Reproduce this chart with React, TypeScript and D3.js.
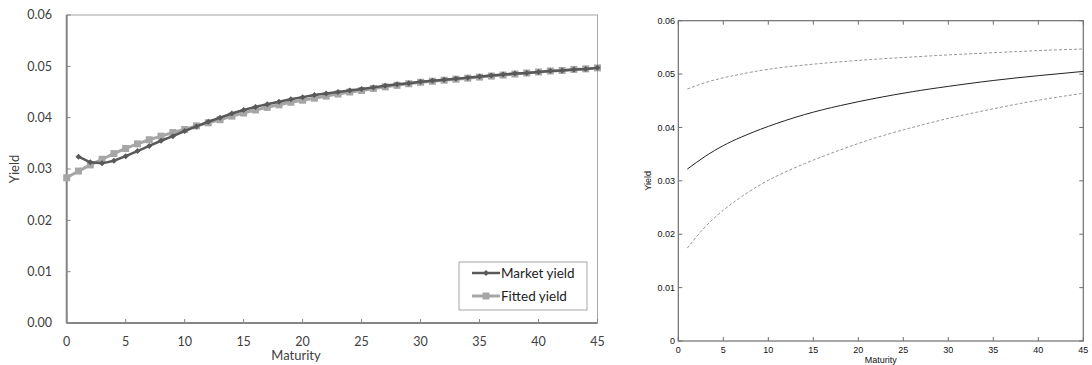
import React from 'react';
import * as d3 from 'd3';

// left panel: market vs fitted yield
const fittedMaturity = d3.range(0, 46);
const fittedYield = [
    0.0283, 0.0296, 0.0308, 0.0319, 0.0330, 0.0340, 0.0349, 0.0357, 0.0364, 0.0371,
    0.0377, 0.0384, 0.0390, 0.0396, 0.0403, 0.0409, 0.0415, 0.0420, 0.0425, 0.0430,
    0.0434, 0.0438, 0.0442, 0.0446, 0.0450, 0.0453, 0.0457, 0.0460, 0.0463, 0.0466,
    0.0469, 0.0471, 0.0473, 0.0475, 0.0477, 0.0479, 0.0481, 0.0483, 0.0485, 0.0487,
    0.0489, 0.0491, 0.0492, 0.0494, 0.0495, 0.0497,
];
const marketMaturity = d3.range(1, 46);
const marketYield = [
    0.0324, 0.0313, 0.0311, 0.0316, 0.0325, 0.0335, 0.0345, 0.0355, 0.0364,
    0.0374, 0.0383, 0.0392, 0.0400, 0.0408, 0.0415, 0.0421, 0.0426, 0.0431, 0.0436,
    0.0440, 0.0444, 0.0447, 0.0450, 0.0453, 0.0456, 0.0459, 0.0462, 0.0465, 0.0467,
    0.0470, 0.0472, 0.0474, 0.0476, 0.0478, 0.0480, 0.0482, 0.0484, 0.0486, 0.0487,
    0.0489, 0.0491, 0.0492, 0.0494, 0.0495, 0.0497,
];
const leftYTicks = [0, 0.01, 0.02, 0.03, 0.04, 0.05, 0.06];
const leftXTicks = [0, 5, 10, 15, 20, 25, 30, 35, 40, 45];

// right panel: estimated curve with bands
const bandMaturity = [1, 3, 5, 7, 10, 14, 18, 22, 26, 30, 35, 40, 45];
const midYield = [0.0322, 0.0346, 0.0366, 0.0382, 0.0402, 0.0424, 0.0441, 0.0455, 0.0467, 0.0477, 0.0488, 0.0497, 0.0505];
const upperYield = [0.0472, 0.0484, 0.0493, 0.0500, 0.0509, 0.0517, 0.0523, 0.0528, 0.0532, 0.0536, 0.0540, 0.0544, 0.0547];
const lowerYield = [0.0174, 0.0214, 0.0245, 0.0270, 0.0301, 0.0332, 0.0358, 0.0381, 0.0400, 0.0417, 0.0435, 0.0451, 0.0464];
const rightYTicks = [0, 0.01, 0.02, 0.03, 0.04, 0.05, 0.06];
const rightXTicks = [0, 5, 10, 15, 20, 25, 30, 35, 40, 45];

const LeftChart: React.FC = () => {
    const x = d3.scaleLinear().domain([0, 45]).range([66.7, 597.5]);
    const y = d3.scaleLinear().domain([0, 0.06]).range([323, 15]);
    const line = d3.line<[number, number]>().x(d => x(d[0])).y(d => y(d[1]));
    const fitted: [number, number][] = fittedMaturity.map((m, i) => [m, fittedYield[i]]);
    const market: [number, number][] = marketMaturity.map((m, i) => [m, marketYield[i]]);
    const font = 'Lato, "Open Sans", sans-serif';
    const txt = '#404040';

    const diamond = (cx: number, cy: number, r: number) =>
        `M${cx},${cy - r}L${cx + r},${cy}L${cx},${cy + r}L${cx - r},${cy}Z`;

    return (
        <g fontFamily={font}>
            <rect x={x(0)} y={y(0.06)} width={x(45) - x(0)} height={y(0) - y(0.06)} fill="none" stroke="#a6a6a6" strokeWidth={1} />
            <line x1={x(0)} x2={x(0)} y1={y(0.06)} y2={y(0)} stroke="#868686" strokeWidth={2} />
            <line x1={x(0)} x2={x(45)} y1={y(0)} y2={y(0)} stroke="#868686" strokeWidth={2} />
            {leftYTicks.map(t => (
                <g key={t}>
                    <line x1={x(0)} x2={x(0) + 4} y1={y(t)} y2={y(t)} stroke="#868686" />
                    <text x={52} y={y(t)} dy="0.35em" textAnchor="end" fontSize={12.5} fill={txt}>{d3.format('.2f')(t)}</text>
                </g>
            ))}
            {leftXTicks.map(t => (
                <g key={t}>
                    <line x1={x(t)} x2={x(t)} y1={y(0)} y2={y(0) - 4} stroke="#868686" />
                    <text x={x(t)} y={346} textAnchor="middle" fontSize={12.5} fill={txt}>{t}</text>
                </g>
            ))}
            <text x={296} y={360} textAnchor="middle" fontSize={13} fill={txt}>Maturity</text>
            <text transform={`translate(19,${169}) rotate(-90)`} textAnchor="middle" fontSize={13} fill={txt}>Yield</text>

            <path d={line(fitted) || ''} fill="none" stroke="#a6a6a6" strokeWidth={3} />
            {fitted.map(d => (
                <rect key={d[0]} x={x(d[0]) - 3.5} y={y(d[1]) - 3.5} width={7} height={7} fill="#a6a6a6" />
            ))}
            <path d={line(market) || ''} fill="none" stroke="#595959" strokeWidth={2.5} />
            {market.map(d => (
                <path key={d[0]} d={diamond(x(d[0]), y(d[1]), 3)} fill="#595959" />
            ))}

            <rect x={459} y={262} width={128} height={48} fill="#fff" stroke="#a6a6a6" strokeWidth={1} />
            <line x1={472} x2={500} y1={273} y2={273} stroke="#595959" strokeWidth={2.5} />
            <path d={diamond(486, 273, 3)} fill="#595959" />
            <text x={501} y={278} fontSize={13.5} fill="#222">Market yield</text>
            <line x1={472} x2={500} y1={296} y2={296} stroke="#a6a6a6" strokeWidth={3} />
            <rect x={482.5} y={292.5} width={7} height={7} fill="#a6a6a6" />
            <text x={501} y={301} fontSize={13.5} fill="#222">Fitted yield</text>
        </g>
    );
};

const RightChart: React.FC = () => {
    const x = d3.scaleLinear().domain([0, 45]).range([678.3, 1083.3]);
    const y = d3.scaleLinear().domain([0, 0.06]).range([341, 20.7]);
    const line = d3.line<number>()
        .x((_, i) => x(bandMaturity[i]))
        .y(d => y(d))
        .curve(d3.curveNatural);
    const font = '"Liberation Sans", Arial, sans-serif';
    const axisColor = '#6e6e6e';

    return (
        <g fontFamily={font}>
            <rect x={x(0)} y={y(0.06)} width={x(45) - x(0)} height={y(0) - y(0.06)} fill="none" stroke={axisColor} strokeWidth={1.2} />
            {rightYTicks.map(t => (
                <g key={t}>
                    <line x1={x(0)} x2={x(0) + 4} y1={y(t)} y2={y(t)} stroke={axisColor} />
                    <line x1={x(45)} x2={x(45) - 4} y1={y(t)} y2={y(t)} stroke={axisColor} />
                    <text x={675} y={y(t)} dy="0.35em" textAnchor="end" fontSize={9} fill="#111">
                        {t === 0 ? '0' : d3.format('.2f')(t)}
                    </text>
                </g>
            ))}
            {rightXTicks.map(t => (
                <g key={t}>
                    <line x1={x(t)} x2={x(t)} y1={y(0)} y2={y(0) - 4} stroke={axisColor} />
                    <line x1={x(t)} x2={x(t)} y1={y(0.06)} y2={y(0.06) + 4} stroke={axisColor} />
                    <text x={x(t)} y={353} textAnchor="middle" fontSize={9} fill="#111">{t}</text>
                </g>
            ))}
            <text x={(x(0) + x(45)) / 2} y={363} textAnchor="middle" fontSize={9} fill="#111">Maturity</text>
            <text transform={`translate(651,${y(0.03)}) rotate(-90)`} textAnchor="middle" fontSize={9} fill="#111">Yield</text>

            <path d={line(upperYield) || ''} fill="none" stroke="#8a8a8a" strokeWidth={0.9} strokeDasharray="3,2" />
            <path d={line(lowerYield) || ''} fill="none" stroke="#8a8a8a" strokeWidth={0.9} strokeDasharray="3,2" />
            <path d={line(midYield) || ''} fill="none" stroke="#222" strokeWidth={1} />
        </g>
    );
};

export default function App() {
    return (
        <div style={{ position: 'absolute', left: 0, top: 0 }}>
            <svg width={1092} height={365} style={{ display: 'block', background: '#fff' }}>
                <LeftChart />
                <RightChart />
            </svg>
        </div>
    );
}
